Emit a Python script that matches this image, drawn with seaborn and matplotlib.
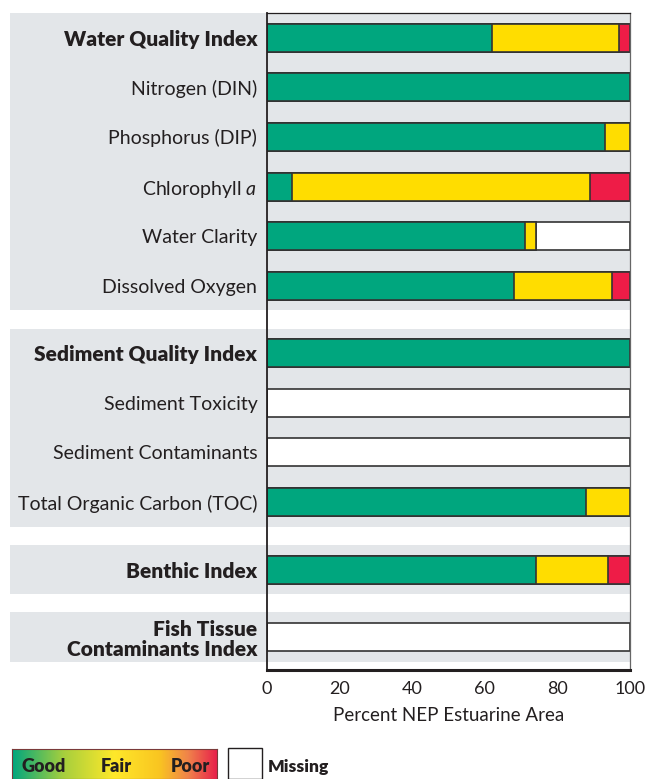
import numpy as np
import pandas as pd
import matplotlib
matplotlib.use("Agg")
import matplotlib.pyplot as plt
from matplotlib.colors import LinearSegmentedColormap
from matplotlib.patches import Rectangle
import seaborn as sns

# ---------------- data ----------------
indicators = ["Water Quality Index", "Nitrogen (DIN)", "Phosphorus (DIP)",
              "Chlorophyll $\\mathit{a}$", "Water Clarity", "Dissolved Oxygen",
              "Sediment Quality Index", "Sediment Toxicity", "Sediment Contaminants",
              "Total Organic Carbon (TOC)",
              "Benthic Index",
              "Fish Tissue\nContaminants Index"]
group_id = [0, 0, 0, 0, 0, 0, 1, 1, 1, 1, 2, 3]
is_index = [True, False, False, False, False, False, True, False, False, False, True, True]
good = [62, 100, 93, 7, 71, 68, 100, 0, 0, 88, 74, 0]
fair = [35, 0, 7, 82, 3, 27, 0, 0, 0, 12, 20, 0]
poor = [3, 0, 0, 11, 0, 5, 0, 0, 0, 0, 6, 0]
missing = [0, 0, 0, 0, 26, 0, 0, 100, 100, 0, 0, 100]
xticks = [0, 20, 40, 60, 80, 100]
xlabel = "Percent NEP Estuarine Area"
legend_labels = ["Good", "Fair", "Poor"]
missing_label = "Missing"

# ---------------- style ----------------
sns.set_theme(style="white")
plt.rcParams['font.family'] = ['Lato', 'DejaVu Sans']
plt.rcParams['mathtext.fontset'] = 'custom'
plt.rcParams['mathtext.rm'] = 'Lato'
plt.rcParams['mathtext.it'] = 'Lato:italic'

TXT = "#231f20"
GREEN = "#00a67e"
YELLOW = "#ffdd00"
RED = "#ee1c47"
BAND = "#e3e6e9"
EDGE = "#333333"

# positions (row units), extra gap between groups
GROUP_GAP = 1.364
pos = []
y = 0.0
for i, g in enumerate(group_id):
    if i > 0:
        y += GROUP_GAP if g != group_id[i - 1] else 1.0
    pos.append(y)
pos = np.array(pos)

df = pd.DataFrame({"label": indicators, "pos": pos,
                   "good": good, "fair": fair, "poor": poor, "missing": missing})
df["c_good"] = df["good"]
df["c_fair"] = df["good"] + df["fair"]
df["c_poor"] = df["c_fair"] + df["poor"]
df["c_all"] = df["c_poor"] + df["missing"]

W, H = 645, 779
fig = plt.figure(figsize=(W / 100, H / 100), dpi=100)
ax_l, ax_r, ax_t, ax_b = 267, 630, 13, 670
ax = fig.add_axes([ax_l / W, 1 - ax_b / H, (ax_r - ax_l) / W, (ax_b - ax_t) / H])

bar_w = 28 / 49.6
for col, colr in [("c_all", "white"), ("c_poor", RED), ("c_fair", YELLOW), ("c_good", GREEN)]:
    sns.barplot(data=df, x=col, y="pos", orient="h", native_scale=True,
                color=colr, saturation=1, width=bar_w, edgecolor=EDGE,
                linewidth=1.2, errorbar=None, ax=ax, zorder=3)

ymin = pos[0] - 0.5
ymax = pos[-1] + 0.66
ax.set_ylim(ymax, ymin)
ax.set_xlim(0, 100)

# group bands
left_ext = (10 - ax_l) / (ax_r - ax_l)
for g in sorted(set(group_id)):
    idx = [i for i, gg in enumerate(group_id) if gg == g]
    y0 = pos[idx[0]] - 0.5
    y1 = pos[idx[-1]] + 0.5
    ax.axhspan(y0, y1, xmin=0, xmax=1, color=BAND, zorder=0, lw=0)
    p = ax.axhspan(y0, y1, xmin=left_ext, xmax=-0.004, color=BAND, zorder=0, lw=0)
    p.set_clip_on(False)

ax.set_yticks(pos)
ax.set_yticklabels(indicators)
for lab, bold in zip(ax.get_yticklabels(), is_index):
    if bold:
        lab.set_fontweight("heavy")
        lab.set_fontsize(15)
    else:
        lab.set_fontweight("normal")
        lab.set_fontsize(14)
    lab.set_color(TXT)
    lab.set_linespacing(1.05)
ax.tick_params(axis="y", length=0, pad=7)

ax.set_xticks(xticks)
ax.set_xticklabels([str(t) for t in xticks], fontsize=13, color=TXT)
ax.tick_params(axis="x", direction="in", length=9, width=2, color=TXT, pad=8)
ax.set_xlabel(xlabel, fontsize=13.5, color=TXT, labelpad=7)
ax.set_ylabel("")

for side, lw, c in [("left", 1.3, TXT), ("top", 0.9, TXT), ("right", 0.9, "#666666"),
                    ("bottom", 2.2, TXT)]:
    ax.spines[side].set_visible(True)
    ax.spines[side].set_linewidth(lw)
    ax.spines[side].set_color(c)
    ax.spines[side].set_zorder(5)

# ---------------- legend ----------------
lx0, lx1, ly0 = 12, 217, 749
lax = fig.add_axes([lx0 / W, 0, (lx1 - lx0) / W, (H - ly0) / H])
cmap = LinearSegmentedColormap.from_list(
    "gfp", [(0.0, "#00a67e"), (0.25, "#a6cf3d"), (0.5, "#ffe82a"),
            (0.72, "#f9c521"), (0.86, "#f0834a"), (1.0, "#e8214a")])
lax.imshow(np.linspace(0, 1, 256)[None, :], aspect="auto", cmap=cmap,
           extent=[0, 1, 0, 1])
lax.set_xticks([])
lax.set_yticks([])
for s in lax.spines.values():
    s.set_visible(True)
    s.set_color("#7a3a3a")
    s.set_linewidth(0.8)
for txt, xc in zip(legend_labels, [0.155, 0.507, 0.868]):
    lax.text(xc, 0.4, txt, transform=lax.transAxes, ha="center", va="center",
             fontsize=13, fontweight="heavy", color=TXT)

fig.patches.append(Rectangle((228 / W, 0), (262 - 228) / W, (H - 748) / H,
                             transform=fig.transFigure, facecolor="white",
                             edgecolor=TXT, linewidth=1.0))
fig.text(268 / W, 1 - 767 / H, missing_label, ha="left", va="center",
         fontsize=12.5, fontweight="heavy", color=TXT)

fig.savefig("out.png", dpi=100)
